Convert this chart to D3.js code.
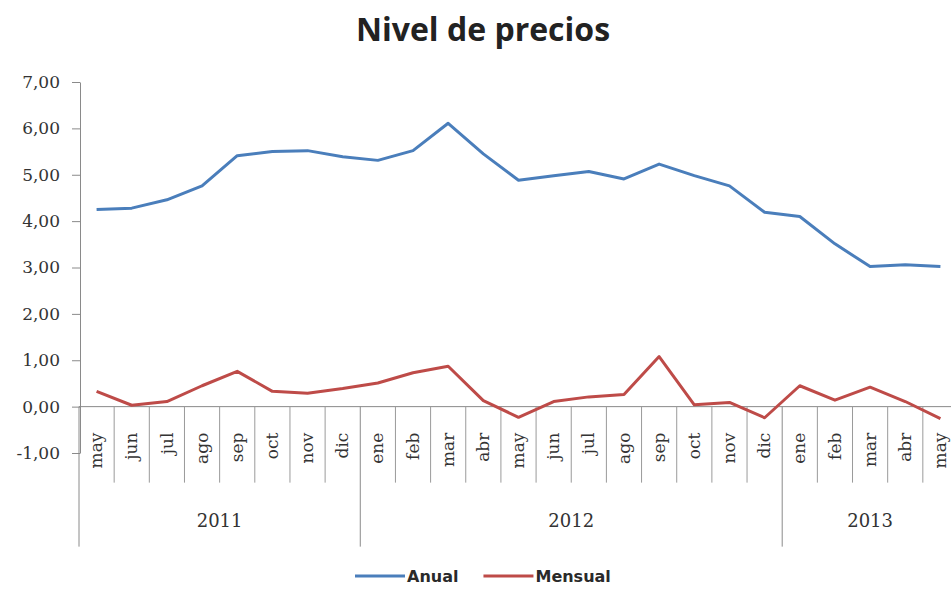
<!DOCTYPE html>
<html>
<head>
<meta charset="utf-8">
<script src="https://cdn.jsdelivr.net/npm/d3@7"></script>
<style>
	body { margin: 0; background: #fff; }
	svg { display: block; }
	.axis-text { font-family: 'DejaVu Serif', serif; fill: #333; }
</style>
</head>
<body>
<div id="chart"></div>
<script>
// data
const months = ['may', 'jun', 'jul', 'ago', 'sep', 'oct', 'nov', 'dic',
	'ene', 'feb', 'mar', 'abr', 'may', 'jun', 'jul', 'ago', 'sep', 'oct', 'nov', 'dic',
	'ene', 'feb', 'mar', 'abr', 'may'];
const yearLabels = ['2011', '2012', '2013'];
const yearMonthCount = [8, 12, 5];

const anual = [4.25, 4.28, 4.46, 4.76, 5.41, 5.50, 5.52, 5.39, 5.31, 5.52, 6.11, 5.45,
	4.88, 4.98, 5.07, 4.91, 5.23, 4.98, 4.76, 4.19, 4.10, 3.51, 3.02, 3.06, 3.02];
const mensual = [0.33, 0.03, 0.11, 0.45, 0.76, 0.33, 0.29, 0.39, 0.51, 0.73, 0.87, 0.13,
	-0.23, 0.11, 0.21, 0.26, 1.08, 0.04, 0.09, -0.24, 0.45, 0.14, 0.42, 0.11, -0.26];

const seriesNames = ['Anual', 'Mensual'];
const yTickValues = [7, 6, 5, 4, 3, 2, 1, 0, -1];

class LineChart {
	constructor(_config) {
		this.config = {
			parentElement: _config.parentElement,
			width: 951,
			height: 590,
			plotLeft: 79,
			plotRight: 958,
			plotTop: 82,
			plotBottom: 453,
			colors: ['#4a7ebb', '#be4b48'],
		};
		this.initVis();
	}

	initVis() {
		const vis = this;
		const c = vis.config;

		vis.svg = d3.select(c.parentElement).append('svg')
			.attr('width', c.width)
			.attr('height', c.height);

		// title
		vis.svg.append('text')
			.attr('x', 483)
			.attr('y', 41)
			.attr('text-anchor', 'middle')
			.style('font-family', "'Open Sans', sans-serif")
			.style('font-weight', 700)
			.style('font-size', '32px')
			.style('fill', '#222')
			.text('Nivel de precios');

		// scales
		vis.xScale = d3.scaleBand().domain(d3.range(months.length)).range([c.plotLeft, c.plotRight]);
		vis.yScale = d3.scaleLinear().domain([-1, 7]).range([c.plotBottom, c.plotTop]);

		vis.updateVis();
	}

	updateVis() {
		const vis = this;
		const c = vis.config;
		const bw = vis.xScale.bandwidth();
		const y0 = vis.yScale(0);

		// y axis with comma decimals
		const locale = d3.formatLocale({ decimal: ',', thousands: '.', grouping: [3], currency: ['', ''], minus: '-' });
		const yAxis = d3.axisLeft(vis.yScale)
			.tickValues(yTickValues)
			.tickSize(8)
			.tickSizeOuter(0)
			.tickPadding(12)
			.tickFormat(locale.format('.2f'));

		const yAxisG = vis.svg.append('g')
			.attr('transform', `translate(${c.plotLeft + 1},0)`)
			.call(yAxis);
		yAxisG.selectAll('path, line').attr('stroke', '#8a8a8a');
		yAxisG.selectAll('text')
			.attr('class', 'axis-text')
			.style('font-size', '17px')
			.style('font-family', "'DejaVu Serif', serif");

		// category axis: line at zero, month separators and year separators
		const catG = vis.svg.append('g');
		catG.append('line')
			.attr('x1', c.plotLeft).attr('x2', c.width)
			.attr('y1', y0).attr('y2', y0)
			.attr('stroke', '#8a8a8a');

		const yearEdges = [0];
		yearMonthCount.forEach(n => yearEdges.push(yearEdges[yearEdges.length - 1] + n));

		const edges = d3.range(months.length + 1);
		catG.selectAll('.month-sep')
			.data(edges.filter(e => !yearEdges.includes(e)))
			.join('line')
			.attr('class', 'month-sep')
			.attr('x1', e => c.plotLeft + e * bw)
			.attr('x2', e => c.plotLeft + e * bw)
			.attr('y1', y0)
			.attr('y2', y0 + 76)
			.attr('stroke', '#9a9a9a');

		catG.selectAll('.year-sep')
			.data(yearEdges.slice(0, -1))
			.join('line')
			.attr('class', 'year-sep')
			.attr('x1', e => c.plotLeft + e * bw)
			.attr('x2', e => c.plotLeft + e * bw)
			.attr('y1', y0)
			.attr('y2', y0 + 140)
			.attr('stroke', '#8a8a8a');

		catG.selectAll('.month-label')
			.data(months)
			.join('text')
			.attr('class', 'month-label axis-text')
			.attr('text-anchor', 'end')
			.attr('transform', (d, i) => `translate(${vis.xScale(i) + bw / 2},${y0 + 26}) rotate(-90)`)
			.attr('dy', '0.33em')
			.style('font-size', '17px')
			.text(d => d);

		catG.selectAll('.year-label')
			.data(yearLabels)
			.join('text')
			.attr('class', 'year-label axis-text')
			.attr('text-anchor', 'middle')
			.attr('x', (d, i) => c.plotLeft + (yearEdges[i] + yearEdges[i + 1]) / 2 * bw)
			.attr('y', y0 + 120)
			.style('font-size', '18px')
			.text(d => d);

		vis.line = d3.line()
			.x((d, i) => vis.xScale(i) + bw / 2)
			.y(d => vis.yScale(d));

		vis.series = [anual, mensual];
		vis.renderVis();
	}

	renderVis() {
		const vis = this;
		const c = vis.config;

		vis.svg.append('g').selectAll('.series-line')
			.data(vis.series)
			.join('path')
			.attr('class', 'series-line')
			.attr('fill', 'none')
			.attr('stroke', (_, i) => c.colors[i])
			.attr('stroke-width', 3)
			.attr('stroke-linejoin', 'round')
			.attr('d', d => vis.line(d));

		// legend
		const legend = vis.svg.append('g').attr('transform', 'translate(355,576)');
		let xPos = 0;
		seriesNames.forEach((name, i) => {
			legend.append('line')
				.attr('x1', xPos).attr('x2', xPos + 50)
				.attr('stroke', c.colors[i])
				.attr('stroke-width', 3);
			const t = legend.append('text')
				.attr('x', xPos + 52)
				.attr('dy', '0.36em')
				.style('font-family', "'DejaVu Sans', sans-serif")
				.style('font-weight', 'bold')
				.style('font-size', '16px')
				.style('fill', '#2a2a2a')
				.text(name);
			xPos += 52 + t.node().getComputedTextLength() + 25;
		});
	}
}

new LineChart({ parentElement: '#chart' });
</script>
</body>
</html>
